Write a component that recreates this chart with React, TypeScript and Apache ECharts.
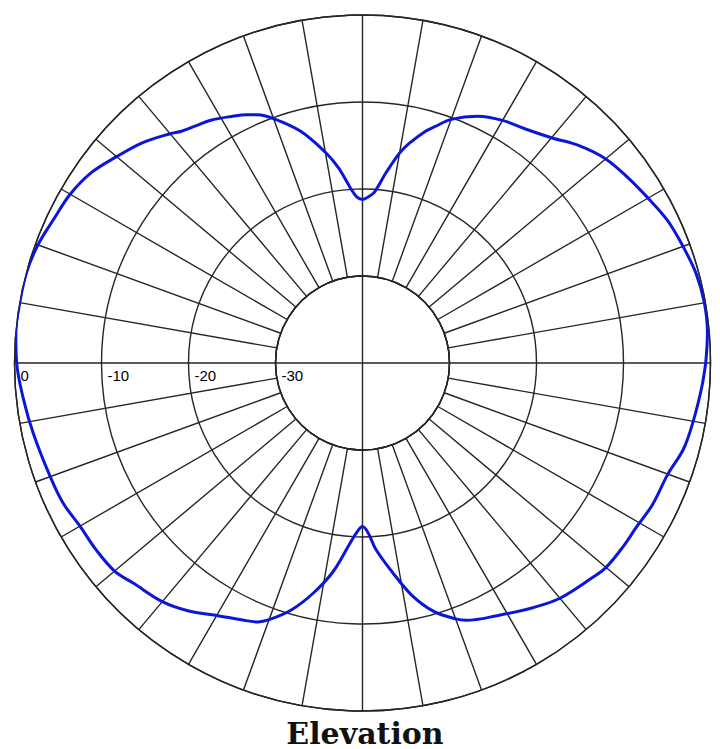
import React, { useEffect, useRef } from "react";
import * as echarts from "echarts";

// Elevation angle (degrees, 0 = right horizon, counter-clockwise) and relative gain (dB)
const elevationAngles = [
  0, 5, 10, 15, 20, 25, 30, 35, 40, 45, 50, 55, 60, 65, 70, 73, 75, 78, 80, 83, 86, 88, 90,
  92, 94, 97, 100, 105, 110, 113, 115, 118, 122, 125, 128, 130, 135, 140, 145, 150, 155, 160,
  165, 170, 175, 180, 186, 192, 200, 205, 210, 215, 220, 224, 230, 235, 240, 245, 248, 250,
  254, 258, 262, 266, 268, 270, 272, 274, 278, 282, 286, 290, 292, 298, 305, 310, 317, 320,
  325, 329, 334, 340, 345, 350, 356, 360,
];
const gainDb = [
  -0.55, -0.2, -0.1, -0.3, -0.8, -1.3, -2.1, -2.8, -3.5, -4.7, -6.2, -7.2, -7.8, -8.7, -10.2,
  -11.6, -12.5, -14.2, -15.5, -18.0, -20.3, -20.9, -21.2,
  -20.9, -19.8, -17.4, -15.4, -12.4, -10.1, -9.0, -8.5, -7.9, -7.1, -6.7, -6.2, -5.6, -4.2,
  -3.1, -1.9, -1.2, -0.85, -0.3, 0, 0, 0, -0.25,
  -0.8, -1.3, -1.8, -2.0, -2.5, -2.6, -2.8, -3.5, -4.2, -5.2, -6.5, -7.4, -7.9, -8.6, -10.5,
  -13.0, -15.8, -19.2, -20.5, -21.2,
  -20.4, -18.6, -15.8, -12.7, -10.3, -8.7, -8.1, -7.1, -5.7, -4.7, -3.85, -3.45, -3.35, -3.3,
  -2.9, -2.65, -1.8, -1.4, -0.9, -0.55,
];
const radiusTicks = [-30, -20, -10, 0];
const radiusTickLabels = ["-30", "-20", "-10", "0"];
const titleText = "Elevation";

const GRID = "#262626";

export default function App() {
  const ref = useRef<HTMLDivElement>(null);

  useEffect(() => {
    document.body.style.margin = "0";
    if (!ref.current) return;
    const chart = echarts.init(ref.current, undefined, { renderer: "svg" });

    const data = elevationAngles.map((a, i) => [gainDb[i], (180 - a + 360) % 360]);
    const center = [362.5, 363];

    chart.setOption({
      animation: false,
      backgroundColor: "#ffffff",
      polar: [
        { center, radius: [87, 348] },
        { center, radius: [0, 87] },
      ],
      angleAxis: [
        {
          polarIndex: 0,
          type: "value",
          min: 0,
          max: 360,
          interval: 10,
          startAngle: 180,
          clockwise: true,
          axisLine: { show: true, lineStyle: { color: GRID, width: 1.4 } },
          axisTick: { show: false },
          axisLabel: { show: false },
          splitLine: { show: true, lineStyle: { color: GRID, width: 1.4 } },
        },
        {
          polarIndex: 1,
          type: "value",
          min: 0,
          max: 360,
          interval: 90,
          startAngle: 180,
          clockwise: true,
          axisLine: { show: true, lineStyle: { color: GRID, width: 1.4 } },
          axisTick: { show: false },
          axisLabel: { show: false },
          splitLine: { show: true, lineStyle: { color: GRID, width: 1.4 } },
        },
      ],
      radiusAxis: [
        {
          polarIndex: 0,
          type: "value",
          min: radiusTicks[0],
          max: radiusTicks[radiusTicks.length - 1],
          interval: 10,
          axisLine: { show: false },
          axisTick: { show: false },
          splitLine: { show: true, lineStyle: { color: GRID, width: 1.4 } },
          axisLabel: {
            show: true,
            align: "left",
            verticalAlign: "top",
            margin: 5,
            padding: [0, 0, 0, 6],
            fontSize: 15,
            fontFamily: "Liberation Sans, Arial, sans-serif",
            color: "#000",
            formatter: (v: number) => {
              const idx = radiusTicks.indexOf(Math.round(v));
              return idx >= 0 ? radiusTickLabels[idx] : "";
            },
          },
        },
        {
          polarIndex: 1,
          type: "value",
          min: 0,
          max: 1,
          show: false,
        },
      ],
      series: [
        {
          type: "line",
          coordinateSystem: "polar",
          polarIndex: 0,
          data,
          showSymbol: false,
          smooth: 0.35,
          clip: false,
          lineStyle: { color: "#0c16d6", width: 3 },
          z: 5,
        },
      ],
      graphic: [
        {
          type: "text",
          x: 365,
          y: 733,
          style: {
            text: titleText,
            textAlign: "center",
            textVerticalAlign: "middle",
            fontFamily: "DejaVu Serif, serif",
            fontWeight: "bold",
            fontSize: 30,
            lineHeight: 30,
            fill: "#111",
          },
        },
      ],
    });

    return () => chart.dispose();
  }, []);

  return <div ref={ref} style={{ width: 720, height: 749 }} />;
}
